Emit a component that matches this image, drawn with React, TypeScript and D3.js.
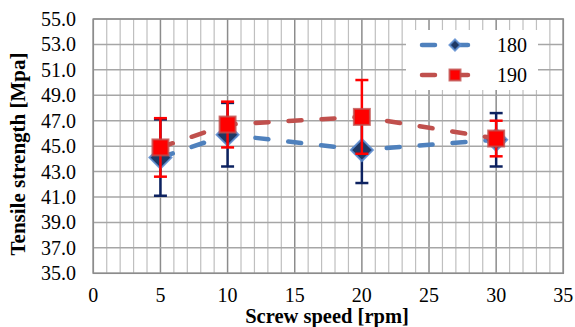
import * as d3 from "d3";

const speeds = [5, 10, 20, 30];
const series180 = [44.1, 45.9, 44.7, 45.5];
const err180 = [3.0, 2.5, 2.6, 2.1];
const series190 = [44.9, 46.7, 47.3, 45.6];
const err190 = [2.3, 1.8, 2.9, 1.4];
const xTicks = [0, 5, 10, 15, 20, 25, 30, 35];
const yTicks = [35, 37, 39, 41, 43, 45, 47, 49, 51, 53, 55];
const seriesNames = ["180", "190"];

const W = 575;
const H = 327;
const font = "'Liberation Serif'";

export default function App() {
  const x = d3.scaleLinear().domain([0, 35]).range([93.3, 563.3]);
  const y = d3.scaleLinear().domain([35, 55]).range([273.3, 19]);
  const line = d3.line<number>().x((_, i) => x(speeds[i])).y(d => y(d));

  const minorX = d3.range(0, 36, 1);

  const series = [
    { name: seriesNames[0], vals: series180, errs: err180, line: "#4F81BD", bar: "#0D2260", marker: "diamond" },
    { name: seriesNames[1], vals: series190, errs: err190, line: "#C0504D", bar: "#FF0000", marker: "square" },
  ];

  const drawMarker = (kind: string, cx: number, cy: number, s: number) =>
    kind === "diamond" ? (
      <path
        d={`M${cx},${cy - s}L${cx + s},${cy}L${cx},${cy + s}L${cx - s},${cy}Z`}
        fill="#1F3864"
        stroke="#5B8BD0"
        strokeWidth={2}
        strokeOpacity={0.85}
      />
    ) : (
      <rect
        x={cx - s}
        y={cy - s}
        width={s * 2}
        height={s * 2}
        fill="#FF0000"
        stroke="#C0504D"
        strokeWidth={2}
        strokeOpacity={0.8}
      />
    );

  return (
    <svg width={W} height={H} style={{ position: "absolute", left: 0, top: 0, background: "#fff" }}>
      {/* vertical grid */}
      {minorX.map(v => (
        <line
          key={"vx" + v}
          x1={x(v)}
          x2={x(v)}
          y1={y(55)}
          y2={y(35)}
          stroke={v % 5 === 0 ? "#8c8c8c" : "#bfbfbf"}
          strokeWidth={v % 5 === 0 ? 1.5 : 1.2}
        />
      ))}
      {/* horizontal grid */}
      {yTicks.map(v => (
        <line key={"hy" + v} x1={x(0)} x2={x(35)} y1={y(v)} y2={y(v)} stroke="#a6a6a6" strokeWidth={1.5} />
      ))}
      <rect x={x(0)} y={y(55)} width={x(35) - x(0)} height={y(35) - y(55)} fill="none" stroke="#8c8c8c" strokeWidth={1.5} />

      {/* y tick labels */}
      {yTicks.map(v => (
        <text key={"yt" + v} x={76} y={y(v) + 7} textAnchor="end" style={{ fontFamily: font }} fontSize={20} fill="#000">
          {v.toFixed(1)}
        </text>
      ))}
      {/* x tick labels */}
      {xTicks.map(v => (
        <text key={"xt" + v} x={x(v)} y={302} textAnchor="middle" style={{ fontFamily: font }} fontSize={20} fill="#000">
          {v}
        </text>
      ))}

      <text
        transform={`translate(25,154) rotate(-90)`}
        textAnchor="middle"
        style={{ fontFamily: font }}
        fontSize={21}
        fontWeight="bold"
      >
        Tensile strength [Mpa]
      </text>
      <text x={327} y={323} textAnchor="middle" style={{ fontFamily: font }} fontSize={20.5} fontWeight="bold">
        Screw speed [rpm]
      </text>

      {series.map(s => (
        <g key={s.name}>
          <path
            d={line(s.vals) ?? ""}
            fill="none"
            stroke={s.line}
            strokeWidth={4.5}
            strokeDasharray="13 20"
            strokeLinecap="round"
          />
          {s.vals.map((v, i) => {
            const cx = x(speeds[i]);
            const top = y(v + s.errs[i]);
            const bot = y(v - s.errs[i]);
            return (
              <g key={i} stroke={s.bar} strokeWidth={2.5}>
                <line x1={cx} x2={cx} y1={top} y2={bot} />
                <line x1={cx - 6.5} x2={cx + 6.5} y1={top} y2={top} />
                <line x1={cx - 6.5} x2={cx + 6.5} y1={bot} y2={bot} />
              </g>
            );
          })}
          {s.vals.map((v, i) => (
            <g key={"m" + i}>{drawMarker(s.marker, x(speeds[i]), y(v), s.marker === "diamond" ? 11 : 8)}</g>
          ))}
        </g>
      ))}

      {/* legend */}
      <rect x={406} y={30} width={132} height={60} fill="#fff" />
      {series.map((s, i) => {
        const ly = 45 + i * 30;
        return (
          <g key={"lg" + s.name}>
            <line
              x1={422}
              x2={471}
              y1={ly}
              y2={ly}
              stroke={s.line}
              strokeWidth={4.5}
              strokeDasharray="13 20"
              strokeLinecap="round"
            />
            {drawMarker(s.marker, 455, ly, 5.5)}
            <text x={497} y={ly + 7} style={{ fontFamily: font }} fontSize={20}>
              {s.name}
            </text>
          </g>
        );
      })}
    </svg>
  );
}
